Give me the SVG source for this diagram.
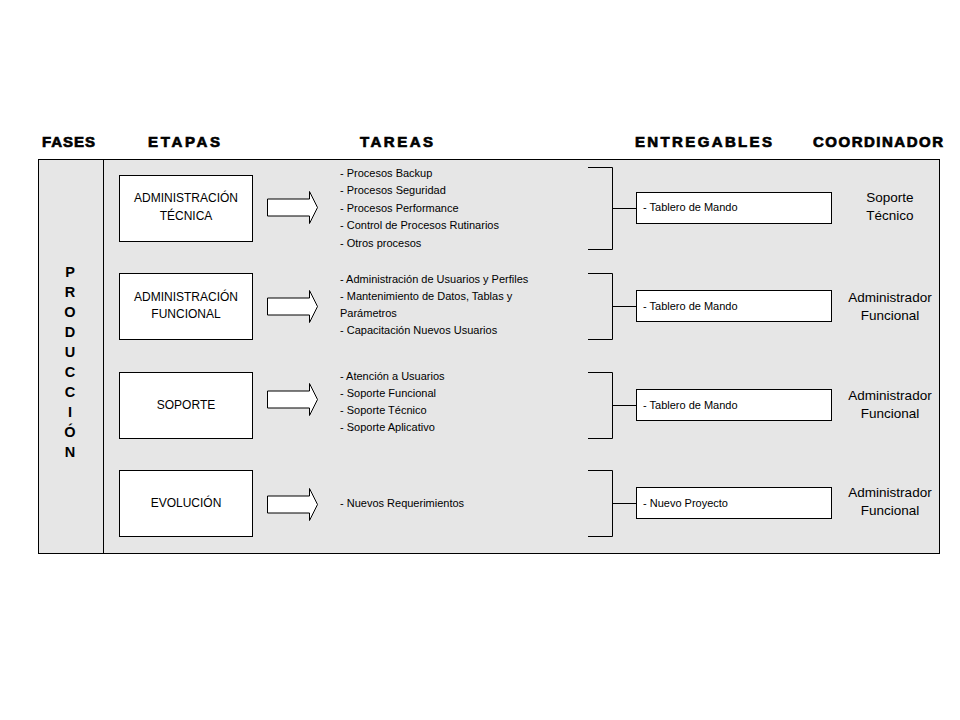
<svg xmlns="http://www.w3.org/2000/svg" width="960" height="720" viewBox="0 0 960 720">
<style>
.hdr{font-family:"Liberation Sans",Arial,sans-serif;font-weight:bold;font-size:15px;fill:#000;stroke:#000;stroke-width:0.7}
.box{fill:#fff;stroke:#000;stroke-width:1}
.bt{font-family:"Liberation Sans",Arial,sans-serif;font-size:12px;fill:#000;text-anchor:middle}
.tt{font-family:"Liberation Sans",Arial,sans-serif;font-size:11px;fill:#000}
.ct{font-family:"Liberation Sans",Arial,sans-serif;font-size:13.5px;fill:#000;text-anchor:middle}
.pl{font-family:"Liberation Sans",Arial,sans-serif;font-weight:bold;font-size:14.5px;fill:#000;text-anchor:middle}
.ln{fill:none;stroke:#000;stroke-width:1}
.arr{fill:#fff;stroke:#000;stroke-width:1}
</style>
<defs>
<path id="arrow" d="M267,-8.5 H309 V-16 L317,0 L309,16 V8.5 H267 Z"/>
</defs>
<rect width="960" height="720" fill="#fff"/>
<g id="headers">
<text class="hdr" x="42" y="147" textLength="53" lengthAdjust="spacing">FASES</text>
<text class="hdr" x="148" y="147" textLength="72" lengthAdjust="spacing">ETAPAS</text>
<text class="hdr" x="360" y="147" textLength="73" lengthAdjust="spacing">TAREAS</text>
<text class="hdr" x="635" y="147" textLength="137" lengthAdjust="spacing">ENTREGABLES</text>
<text class="hdr" x="813" y="147" textLength="130" lengthAdjust="spacing">COORDINADOR</text>
</g>
<g id="panel">
<rect x="38.5" y="159.5" width="901" height="394" fill="#e6e6e6" stroke="#000" stroke-width="1"/>
<line class="ln" x1="103.5" y1="159.5" x2="103.5" y2="553.5"/>
</g>
<g id="fase-produccion">
<text class="pl" x="70" y="277">P</text>
<text class="pl" x="70" y="297">R</text>
<text class="pl" x="70" y="317">O</text>
<text class="pl" x="70" y="337">D</text>
<text class="pl" x="70" y="357">U</text>
<text class="pl" x="70" y="377">C</text>
<text class="pl" x="70" y="397">C</text>
<text class="pl" x="70" y="417">I</text>
<text class="pl" x="70" y="437">Ó</text>
<text class="pl" x="70" y="457">N</text>
</g>
<g id="etapa-tecnica">
<rect class="box" x="119.5" y="175.5" width="133" height="66"/>
<text class="bt" x="186" y="202">ADMINISTRACIÓN</text>
<text class="bt" x="186" y="220">TÉCNICA</text>
</g>
<g id="etapa-funcional">
<rect class="box" x="119.5" y="273.5" width="133" height="66"/>
<text class="bt" x="186" y="301">ADMINISTRACIÓN</text>
<text class="bt" x="186" y="318">FUNCIONAL</text>
</g>
<g id="etapa-soporte">
<rect class="box" x="119.5" y="372.5" width="133" height="66"/>
<text class="bt" x="186" y="409">SOPORTE</text>
</g>
<g id="etapa-evolucion">
<rect class="box" x="119.5" y="470.5" width="133" height="66"/>
<text class="bt" x="186" y="507">EVOLUCIÓN</text>
</g>
<g id="tareas-tecnica">
<text class="tt" x="340" y="177">- Procesos Backup</text>
<text class="tt" x="340" y="194">- Procesos Seguridad</text>
<text class="tt" x="340" y="212">- Procesos Performance</text>
<text class="tt" x="340" y="229">- Control de Procesos Rutinarios</text>
<text class="tt" x="340" y="247">- Otros procesos</text>
</g>
<g id="tareas-funcional">
<text class="tt" x="340" y="283">- Administración de Usuarios y Perfiles</text>
<text class="tt" x="340" y="300">- Mantenimiento de Datos, Tablas y</text>
<text class="tt" x="340" y="317">Parámetros</text>
<text class="tt" x="340" y="334">- Capacitación Nuevos Usuarios</text>
</g>
<g id="tareas-soporte">
<text class="tt" x="340" y="380">- Atención a Usuarios</text>
<text class="tt" x="340" y="397">- Soporte Funcional</text>
<text class="tt" x="340" y="414">- Soporte Técnico</text>
<text class="tt" x="340" y="431">- Soporte Aplicativo</text>
</g>
<g id="tareas-evolucion">
<text class="tt" x="340" y="507">- Nuevos Requerimientos</text>
</g>
<g id="entregable-1">
<rect class="box" x="636.5" y="192.5" width="195" height="31"/>
<text class="tt" x="643" y="211">- Tablero de Mando</text>
</g>
<g id="entregable-2">
<rect class="box" x="636.5" y="290.5" width="195" height="31"/>
<text class="tt" x="643" y="310">- Tablero de Mando</text>
</g>
<g id="entregable-3">
<rect class="box" x="636.5" y="389.5" width="195" height="31"/>
<text class="tt" x="643" y="409">- Tablero de Mando</text>
</g>
<g id="entregable-4">
<rect class="box" x="636.5" y="487.5" width="195" height="31"/>
<text class="tt" x="643" y="507">- Nuevo Proyecto</text>
</g>
<g id="coordinador-1">
<text class="ct" x="890" y="202">Soporte</text>
<text class="ct" x="890" y="220">Técnico</text>
</g>
<g id="coordinador-2">
<text class="ct" x="890" y="302">Administrador</text>
<text class="ct" x="890" y="320">Funcional</text>
</g>
<g id="coordinador-3">
<text class="ct" x="890" y="400">Administrador</text>
<text class="ct" x="890" y="418">Funcional</text>
</g>
<g id="coordinador-4">
<text class="ct" x="890" y="497">Administrador</text>
<text class="ct" x="890" y="515">Funcional</text>
</g>
<g id="connectors">
<use href="#arrow" class="arr" transform="translate(0.5,207.5)"/>
<use href="#arrow" class="arr" transform="translate(0.5,306.5)"/>
<use href="#arrow" class="arr" transform="translate(0.5,399.5)"/>
<use href="#arrow" class="arr" transform="translate(0.5,504.5)"/>
<path class="ln" d="M588,167.5 H612.5 V249.5 H588 M612.5,208.5 H636"/>
<path class="ln" d="M588,273.5 H612.5 V339.5 H588 M612.5,306.5 H636"/>
<path class="ln" d="M588,372.5 H612.5 V438.5 H588 M612.5,405.5 H636"/>
<path class="ln" d="M588,470.5 H612.5 V536.5 H588 M612.5,503.5 H636"/>
</g>
</svg>
